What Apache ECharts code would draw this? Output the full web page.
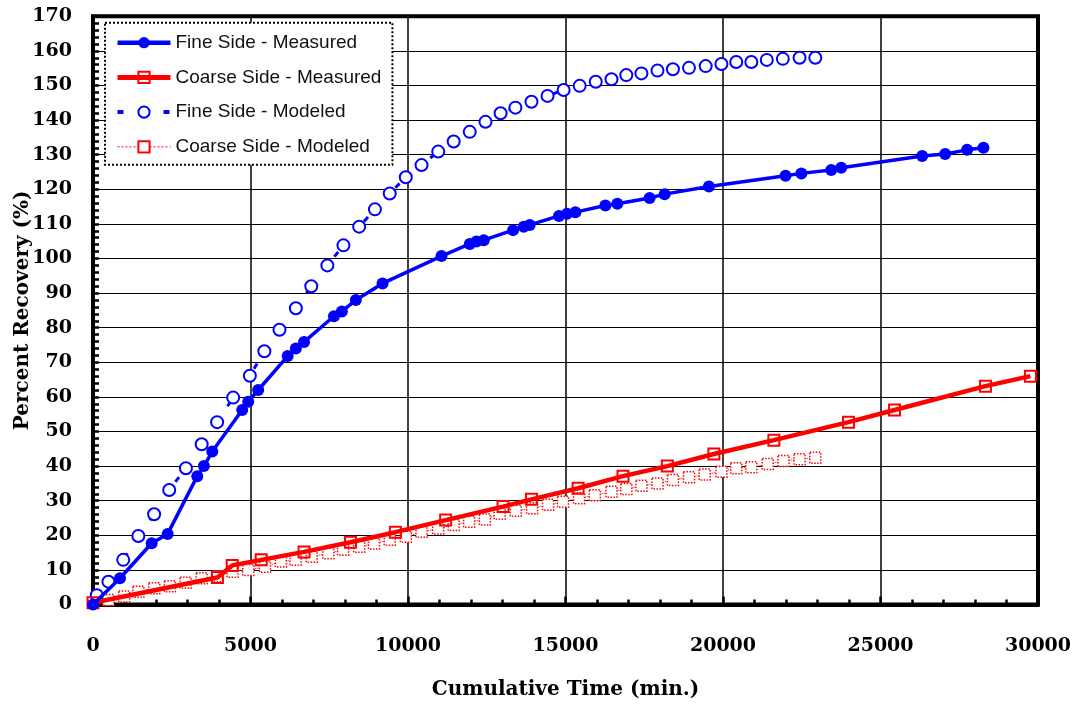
<!DOCTYPE html>
<html>
<head>
<meta charset="utf-8">
<script src="https://cdn.jsdelivr.net/npm/echarts@6/dist/echarts.min.js"></script>
<style>
html,body{margin:0;padding:0;background:#fff;}
#chart{width:1076px;height:704px;}
</style>
</head>
<body>
<div id="chart"></div>
<script>
// ---- data ----
const seriesNames = ['Fine Side - Measured', 'Coarse Side - Measured', 'Fine Side - Modeled', 'Coarse Side - Modeled'];

const fineMeasuredT = [0, 857, 1862, 2370, 3310, 3520, 3786, 4737, 4927, 5245, 6180, 6440, 6700, 7650, 7900, 8344, 9191, 11063, 11960, 12173, 12405, 13335, 13674, 13864, 14794, 15048, 15314, 16266, 16646, 17671, 18147, 19553, 21986, 22487, 23436, 23753, 26323, 27053, 27751, 28268];
const fineMeasuredV = [0, 7.6, 17.7, 20.4, 37.1, 40.0, 44.2, 56.2, 58.6, 62.0, 71.8, 74.0, 75.9, 83.3, 84.7, 88.0, 92.8, 100.7, 104.2, 104.9, 105.3, 108.2, 109.2, 109.7, 112.3, 112.9, 113.4, 115.3, 115.8, 117.5, 118.6, 120.8, 123.9, 124.6, 125.6, 126.2, 129.6, 130.2, 131.4, 132.0];

const coarseMeasuredT = [0, 3950, 4420, 5340, 6700, 8175, 9600, 11195, 13017, 13918, 15400, 16825, 18233, 19711, 21615, 23985, 25444, 28331, 29759];
const coarseMeasuredV = [0.5, 7.8, 11.3, 12.9, 15.2, 18.0, 20.9, 24.4, 28.3, 30.4, 33.6, 37.1, 40.0, 43.5, 47.5, 52.7, 56.2, 63.1, 66.0];

const fineModeledT = [120, 490, 960, 1440, 1940, 2420, 2950, 3450, 3940, 4450, 4980, 5440, 5920, 6440, 6930, 7440, 7950, 8450, 8950, 9420, 9930, 10430, 10960, 11450, 11960, 12460, 12940, 13410, 13920, 14430, 14940, 15450, 15960, 16460, 16930, 17410, 17920, 18410, 18920, 19450, 19950, 20420, 20900, 21390, 21900, 22430, 22930];
const fineModeledV = [2.7, 6.6, 12.9, 19.8, 26.1, 33.1, 39.4, 46.3, 52.7, 59.8, 66.1, 73.2, 79.4, 85.6, 92.0, 98.0, 103.8, 109.2, 114.2, 118.8, 123.5, 127.0, 130.9, 133.8, 136.6, 139.5, 142.0, 143.6, 145.3, 147.0, 148.7, 149.9, 151.1, 151.8, 153.0, 153.5, 154.3, 154.7, 155.1, 155.6, 156.2, 156.8, 156.8, 157.4, 157.7, 158.0, 158.0];

const coarseModeledT = [490, 990, 1440, 1945, 2440, 2940, 3450, 3955, 4430, 4930, 5460, 5965, 6430, 6940, 7470, 7940, 8450, 8920, 9420, 9930, 10430, 10955, 11450, 11940, 12440, 12910, 13420, 13940, 14445, 14920, 15430, 15930, 16460, 16930, 17410, 17920, 18410, 18920, 19420, 19950, 20420, 20900, 21420, 21920, 22430, 22930];
const coarseModeledV = [1.3, 2.3, 3.7, 4.7, 5.3, 6.3, 7.6, 8.2, 9.5, 10.0, 10.9, 12.4, 12.9, 13.8, 14.8, 15.8, 16.7, 17.6, 18.7, 19.6, 21.0, 22.0, 23.0, 23.9, 24.6, 26.2, 27.1, 27.8, 28.8, 29.7, 30.7, 31.6, 32.6, 33.4, 34.3, 35.0, 36.0, 36.8, 37.6, 38.4, 39.4, 39.7, 40.6, 41.5, 42.0, 42.4];

const xAxisName = 'Cumulative Time (min.)';
const yAxisName = 'Percent Recovery (%)';

// ---- build ----
function pairs(t, v) { return t.map((x, i) => [x, v[i]]); }

const serifBold = { fontFamily: 'DejaVu Serif', fontWeight: 'bold', color: '#000' };

const chart = echarts.init(document.getElementById('chart'), null, { renderer: 'canvas' });
chart.setOption({
  animation: false,
  backgroundColor: '#fff',
  grid: {
    left: 93, right: 38, top: 16.3, bottom: 99.5,
    outerBoundsMode: 'none', containLabel: false,
    show: true, borderColor: '#000', borderWidth: 4, backgroundColor: 'transparent'
  },
  legend: {
    orient: 'vertical',
    left: 105, top: 22.7,
    padding: [10, 11, 8, 10],
    itemWidth: 53, itemHeight: 14, itemGap: 14.7,
    backgroundColor: '#fff',
    borderColor: '#000', borderWidth: 2, borderType: 'dotted',
    textStyle: { fontFamily: 'Liberation Sans', fontSize: 19, color: '#111', lineHeight: 20 },
    data: [
      { name: seriesNames[0], lineStyle: { width: 4.5 } },
      { name: seriesNames[1], lineStyle: { width: 5 } },
      { name: seriesNames[2], lineStyle: { width: 4, type: [6, 17] } },
      { name: seriesNames[3], lineStyle: { width: 1, type: [2, 2] } }
    ]
  },
  xAxis: {
    type: 'value', min: 0, max: 30000, interval: 5000,
    name: xAxisName, nameLocation: 'middle', nameGap: 75, nameMoveOverlap: false,
    nameTextStyle: Object.assign({ fontSize: 20 }, serifBold),
    axisLine: { show: true, lineStyle: { color: '#000', width: 4 } },
    axisTick: { show: true, inside: true, length: 8, lineStyle: { color: '#000', width: 2.5 } },
    minorTick: { show: true, splitNumber: 5, length: 5, lineStyle: { color: '#000', width: 2.5 } },
    splitLine: { show: true, lineStyle: { color: '#000', width: 1.5 } },
    axisLabel: Object.assign({ fontSize: 19, margin: 32, formatter: function (v) { return String(v); } }, serifBold)
  },
  yAxis: {
    type: 'value', min: 0, max: 170, interval: 10,
    name: yAxisName, nameLocation: 'middle', nameGap: 60, nameMoveOverlap: false,
    nameTextStyle: Object.assign({ fontSize: 20 }, serifBold),
    axisLine: { show: true, lineStyle: { color: '#000', width: 4 } },
    axisTick: { show: true, inside: true, length: 6, lineStyle: { color: '#000', width: 2.5 } },
    minorTick: { show: true, splitNumber: 5, length: 6, lineStyle: { color: '#000', width: 2.5 } },
    splitLine: { show: true, lineStyle: { color: '#000', width: 1 } },
    axisLabel: Object.assign({ fontSize: 19, margin: 21, formatter: function (v) { return String(v); } }, serifBold)
  },
  series: [
    {
      name: seriesNames[3], type: 'line', z: 2,
      data: pairs(coarseModeledT, coarseModeledV),
      symbol: 'rect', symbolSize: 11,
      itemStyle: { color: '#fff', borderColor: '#ff0000', borderWidth: 1.5, borderType: 'dotted' },
      lineStyle: { color: '#ff0000', width: 1, type: 'dotted' },
      color: '#ff0000'
    },
    {
      name: seriesNames[2], type: 'line', z: 3,
      data: pairs(fineModeledT, fineModeledV),
      symbol: 'circle', symbolSize: 12,
      itemStyle: { color: '#fff', borderColor: '#0000ff', borderWidth: 2 },
      lineStyle: { color: '#0000ff', width: 3, type: [6, 40] },
      color: '#0000ff'
    },
    {
      name: seriesNames[1], type: 'line', z: 4,
      data: pairs(coarseMeasuredT, coarseMeasuredV),
      symbol: 'rect', symbolSize: 11,
      itemStyle: { color: 'rgba(255,255,255,0)', borderColor: '#ff0000', borderWidth: 2 },
      lineStyle: { color: '#ff0000', width: 4.5 },
      color: '#ff0000'
    },
    {
      name: seriesNames[0], type: 'line', z: 5,
      data: pairs(fineMeasuredT, fineMeasuredV),
      symbol: 'circle', symbolSize: 12,
      itemStyle: { color: '#0000ff' },
      lineStyle: { color: '#0000ff', width: 3.5 },
      color: '#0000ff'
    }
  ]
});
</script>
</body>
</html>
